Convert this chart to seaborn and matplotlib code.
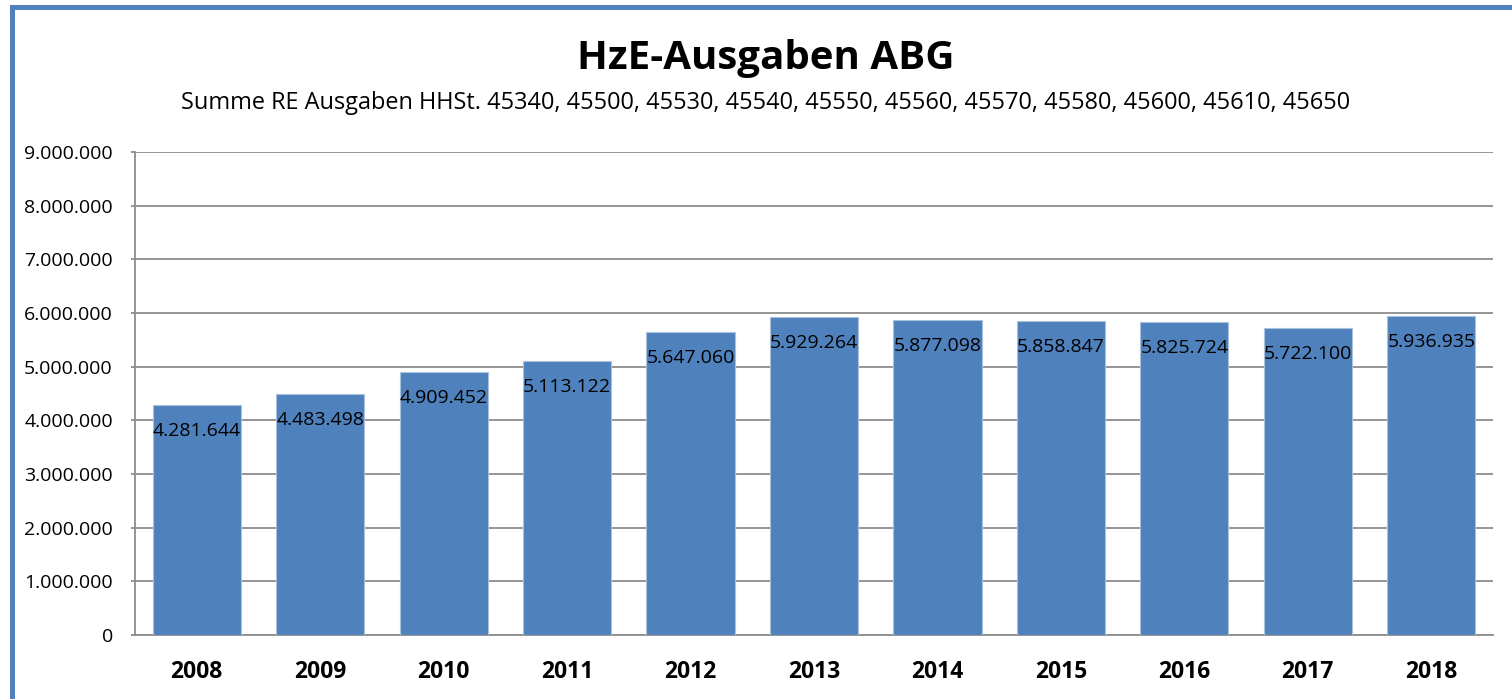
import matplotlib
matplotlib.use("Agg")
import matplotlib.pyplot as plt
from matplotlib.patches import Rectangle
from matplotlib.ticker import FuncFormatter, MultipleLocator
import seaborn as sns
import pandas as pd

# Yearly HzE expenditure (EUR)
years = ["2008", "2009", "2010", "2011", "2012", "2013", "2014", "2015", "2016", "2017", "2018"]
ausgaben = [4281644, 4483498, 4909452, 5113122, 5647060, 5929264, 5877098, 5858847, 5825724, 5722100, 5936935]

title = "HzE-Ausgaben ABG"
subtitle = "Summe RE Ausgaben HHSt. 45340, 45500, 45530, 45540, 45550, 45560, 45570, 45580, 45600, 45610, 45650"

BAR_BLUE = "#4F81BD"
GRID_GREY = "#8C8C8C"

sns.set_theme(style="white")
plt.rcParams["font.family"] = ["Open Sans", "DejaVu Sans"]


def de_thousands(v, _pos=None):
    return f"{int(round(v)):,}".replace(",", ".")


df = pd.DataFrame({"Jahr": years, "Ausgaben": ausgaben})

fig = plt.figure(figsize=(15.12, 6.99), dpi=100)
W, H = 1512, 699

# Outer chart frame (continues past the right/bottom edge)
fig.patches.append(Rectangle((11.5 / W, -0.05), 1.2, (H - 6.5) / H + 0.05,
                             transform=fig.transFigure, fill=False,
                             edgecolor=BAR_BLUE, linewidth=3.6, zorder=0))

ax = fig.add_axes([135 / W, 64 / H, (1493 - 135) / W, (635 - 152) / H])

sns.barplot(data=df, x="Jahr", y="Ausgaben", ax=ax, color=BAR_BLUE,
            saturation=1, width=0.715, edgecolor="#A9C0DE", linewidth=0.8,
            zorder=3)

ax.set_ylim(0, 9000000)
ax.set_xlim(-0.5, len(years) - 0.5)
ax.yaxis.set_major_locator(MultipleLocator(1000000))
ax.yaxis.set_major_formatter(FuncFormatter(de_thousands))
ax.grid(axis="y", color=GRID_GREY, linewidth=1.3, zorder=0)
ax.set_axisbelow(True)
ax.set_xlabel("")
ax.set_ylabel("")

for side in ("top", "right"):
    ax.spines[side].set_visible(False)
for side in ("left", "bottom"):
    ax.spines[side].set_color(GRID_GREY)
    ax.spines[side].set_linewidth(1.3)

ax.tick_params(axis="y", left=True, length=3, width=1.3, color=GRID_GREY,
               pad=13, labelsize=14, labelcolor="black")
ax.tick_params(axis="x", bottom=False, length=0, pad=18, labelsize=16.5,
               labelcolor="black")
for lbl in ax.get_xticklabels():
    lbl.set_fontweight("bold")

# Value labels just inside the top of each bar
for patch, val in zip(ax.patches, ausgaben):
    ax.annotate(de_thousands(val), (patch.get_x() + patch.get_width() / 2, val),
                xytext=(0, -26), textcoords="offset pixels",
                ha="center", va="center", fontsize=14, color="black", zorder=4)

fig.text(766 / W, 1 - 58 / H, title, ha="center", va="center",
         fontsize=29, fontweight="bold", color="black")
fig.text(766 / W, 1 - 103 / H, subtitle, ha="center", va="center",
         fontsize=16.9, color="black")

fig.savefig("out.png", dpi=100)
